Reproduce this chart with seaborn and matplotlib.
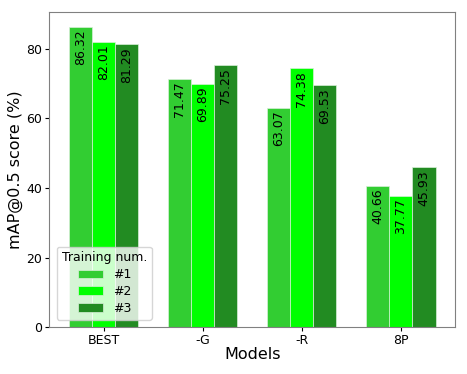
import matplotlib
matplotlib.use('Agg')
import matplotlib.pyplot as plt
import numpy as np
import pandas as pd
import seaborn as sns

models = ['BEST', '-G', '-R', '8P']
runs = ['#1', '#2', '#3']
run1 = [86.32, 71.47, 63.07, 40.66]
run2 = [82.01, 69.89, 74.38, 37.77]
run3 = [81.29, 75.25, 69.53, 45.93]

colors = ['limegreen', 'lime', 'forestgreen']

df = pd.DataFrame({
    'Models': models * 3,
    'Training num.': [r for r in runs for _ in models],
    'score': run1 + run2 + run3,
})

sns.set_style('white')
plt.rcParams.update({'text.color': 'black', 'axes.labelcolor': 'black',
                     'xtick.color': 'black', 'ytick.color': 'black'})
fig, ax = plt.subplots(figsize=(4.67, 3.74), dpi=100)
sns.barplot(ax=ax, data=df, x='Models', y='score', hue='Training num.',
            palette=colors, width=0.7, saturation=1, edgecolor='#d8f0d8',
            linewidth=0.5)

# value labels, rotated, hanging from the top of each bar
for cont in ax.containers:
    for bar, v in zip(cont, cont.datavalues):
        ax.text(bar.get_x() + bar.get_width() / 2, v - 0.8, f'{v:.2f}',
                rotation=90, ha='center', va='top', fontsize=9)

ax.set_ylim(0, 90.6)
ax.set_xlim(-0.55, 3.55)
ax.set_yticks([0, 20, 40, 60, 80])
ax.tick_params(axis='both', labelsize=9, length=3, pad=2, left=True, bottom=True)
ax.set_xlabel('Models', fontsize=11.5, labelpad=0)
ax.set_ylabel('mAP@0.5 score (%)', fontsize=11.5, labelpad=2)
for s in ax.spines.values():
    s.set_color('gray')

leg = ax.legend(title='Training num.', loc='lower left', fontsize=9,
                title_fontsize=9, framealpha=0.8, labelspacing=0.3,
                borderaxespad=0.6)

plt.subplots_adjust(left=0.105, right=0.975, top=0.968, bottom=0.125)
plt.savefig('out.png', dpi=100)
